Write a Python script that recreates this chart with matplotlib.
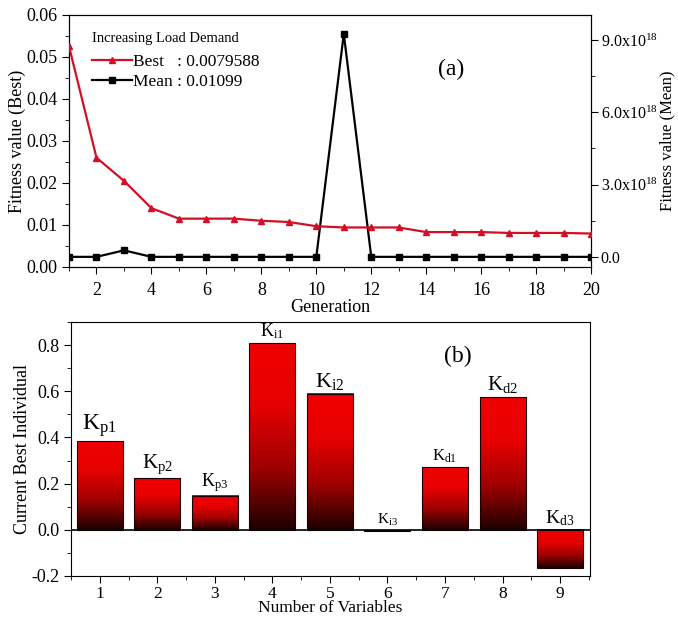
import numpy as np
import matplotlib
matplotlib.use('Agg')
import matplotlib.pyplot as plt
from matplotlib.colors import LinearSegmentedColormap
from matplotlib.ticker import MultipleLocator, FixedLocator
from matplotlib.lines import Line2D

plt.rcParams['font.family'] = ['Liberation Serif', 'DejaVu Serif']
plt.rcParams['mathtext.fontset'] = 'custom'
plt.rcParams['mathtext.rm'] = 'Liberation Serif'
plt.rcParams['mathtext.it'] = 'Liberation Serif:italic'

# Datos del panel (a)
generacion = np.arange(1, 21)
best = [0.0525, 0.026, 0.0205, 0.014, 0.0115, 0.0115, 0.0115, 0.011, 0.0107, 0.0097,
        0.0094, 0.0094, 0.0094, 0.0083, 0.0083, 0.0083, 0.0081, 0.0081, 0.0081, 0.0079588]
mean = [0.0, 0.0, 0.27e18, 0.0, 0.0, 0.0, 0.0, 0.0, 0.0, 0.0,
        9.25e18, 0.0, 0.0, 0.0, 0.0, 0.0, 0.0, 0.0, 0.0, 0.0]

# Datos del panel (b)
variables = np.arange(1, 10)
valores = [0.385, 0.225, 0.148, 0.808, 0.59, -0.004, 0.272, 0.575, -0.165]
etiquetas = ['p1', 'p2', 'p3', 'i1', 'i2', 'i3', 'd1', 'd2', 'd3']
tam_etiquetas = [17, 15, 13, 13, 16, 11, 12, 15, 14]

fig = plt.figure(figsize=(6.78, 6.18), dpi=100)

# ---------- Panel (a) ----------
ax1 = fig.add_axes([0.1018, 0.568, 0.770, 0.408])
ax1.plot(generacion, best, color='#d40f25', marker='^', markersize=5, lw=1.6, zorder=3)
ax1.set_xlim(1, 20)
ax1.set_ylim(0, 0.06)
ax1.xaxis.set_major_locator(MultipleLocator(2))
ax1.xaxis.set_minor_locator(MultipleLocator(1))
ax1.yaxis.set_major_locator(MultipleLocator(0.01))
ax1.yaxis.set_minor_locator(MultipleLocator(0.005))
ax1.yaxis.set_major_formatter(plt.FormatStrFormatter('%.2f'))
ax1.set_xlabel('Generation', fontsize=13, labelpad=0)
ax1.set_ylabel('Fitness value (Best)', fontsize=13, labelpad=0)
ax1.tick_params(which='both', direction='out', labelsize=13, top=False, right=False)
ax1.tick_params(which='major', length=5)
ax1.tick_params(which='minor', length=3)
ax1.tick_params(axis='x', pad=6)

ax2 = ax1.twinx()
ax2.plot(generacion, mean, color='black', marker='s', markersize=5, lw=1.6)
ax2.set_ylim(-0.42e18, 10.04e18)
ax2.yaxis.set_major_locator(FixedLocator([0, 3e18, 6e18, 9e18]))
ax2.yaxis.set_minor_locator(FixedLocator([1.5e18, 4.5e18, 7.5e18]))
ax2.set_yticklabels(['0.0', r'3.0x10$^{18}$', r'6.0x10$^{18}$', r'9.0x10$^{18}$'])
ax2.set_ylabel('Fitness value (Mean)', fontsize=12, labelpad=1)
ax2.tick_params(which='both', direction='out', labelsize=11.5, pad=2)
ax2.tick_params(which='major', length=5)
ax2.tick_params(which='minor', length=3)
ax1.set_zorder(ax2.get_zorder() + 1)
ax1.patch.set_visible(False)

handles = [Line2D([], [], color='#d40f25', marker='^', markersize=4, lw=1.6),
           Line2D([], [], color='black', marker='s', markersize=4, lw=1.6)]
leg = ax1.legend(handles, ['Best   : 0.0079588', 'Mean : 0.01099'],
                 title='Increasing Load Demand', loc='upper left', frameon=False,
                 fontsize=12.5, title_fontsize=10.5, handlelength=2.3,
                 handletextpad=0.1, labelspacing=0.25, borderaxespad=0.6,
                 bbox_to_anchor=(0.01, 1.0))
leg._legend_box.align = 'left'
leg._legend_box.sep = 6
ax1.text(14.9, 0.0469, '(a)', fontsize=17, ha='center', va='center')

# ---------- Panel (b) ----------
ax3 = fig.add_axes([0.1047, 0.068, 0.7655, 0.411])
cmap = LinearSegmentedColormap.from_list('rojo', ['#1c0000', '#9e0000', '#e60000', '#f00000'])
grad = np.linspace(0, 1, 256).reshape(-1, 1)
ancho = 0.8
for x, v in zip(variables, valores):
    y0, y1 = min(0, v), max(0, v)
    ax3.imshow(grad, extent=[x - ancho / 2, x + ancho / 2, y0, y1], origin='lower',
               cmap=cmap, aspect='auto', zorder=2)
    ax3.add_patch(plt.Rectangle((x - ancho / 2, y0), ancho, y1 - y0, fill=False,
                                edgecolor='#1a0000', lw=0.8, zorder=3))
for x, v, e, s in zip(variables, valores, etiquetas, tam_etiquetas):
    ax3.text(x, max(v, 0) + 0.008, r'K$_{\mathrm{%s}}$' % e, fontsize=s,
             ha='center', va='bottom')
ax3.axhline(0, color='black', lw=1.2, zorder=4)
ax3.set_xlim(0.5, 9.52)
ax3.set_ylim(-0.2, 0.9)
ax3.xaxis.set_major_locator(MultipleLocator(1))
ax3.xaxis.set_minor_locator(MultipleLocator(0.5))
ax3.yaxis.set_major_locator(MultipleLocator(0.2))
ax3.yaxis.set_minor_locator(MultipleLocator(0.1))
ax3.yaxis.set_major_formatter(plt.FormatStrFormatter('%.1f'))
ax3.set_xlabel('Number of Variables', fontsize=12.5, labelpad=-1)
ax3.set_ylabel('Current Best Individual', fontsize=13, labelpad=0)
ax3.tick_params(which='both', direction='out', labelsize=13)
ax3.tick_params(axis='x', labelsize=12.5, pad=2)
ax3.tick_params(which='major', length=5)
ax3.tick_params(which='minor', length=3)
ax3.text(7.23, 0.75, '(b)', fontsize=17, ha='center', va='center')

fig.savefig('out.png', dpi=100)
